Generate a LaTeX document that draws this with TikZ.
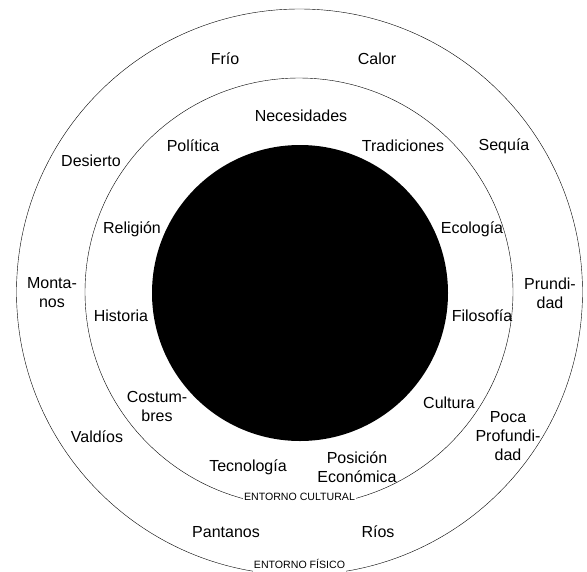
\documentclass[tikz,border=0pt]{standalone}
\usepackage{fontspec}
\setmainfont{Liberation Sans}

\begin{document}
\begin{tikzpicture}[x=1pt, y=-1pt,
    lbl/.style={font=\fontsize{16}{19}\selectfont, align=center, inner sep=1pt},
    ringlbl/.style={font=\fontsize{10.6}{12}\selectfont, fill=white, anchor=base,
        inner xsep=1pt, inner ysep=1pt, text height=8pt, text depth=7pt}]
    \useasboundingbox (0,0) rectangle (587,571);
    % --- rings and core ---
    \draw (299.5,292) circle (283pt);
    \draw (299,292) circle (214pt);
    \fill[black] (300,293) circle (148pt);
    % --- entorno cultural ---
    \foreach \pos/\txt/\nm in {
        (301,116)/Necesidades/necesidades,
        (193,146)/Política/politica,
        (403,146)/Tradiciones/tradiciones,
        (132,229)/Religión/religion,
        (472,229)/Ecología/ecologia,
        (121,316)/Historia/historia,
        (482,316)/Filosofía/filosofia,
        (157,406)/{Costum-\\bres}/costumbres,
        (449,403)/Cultura/cultura,
        (248,467)/Tecnología/tecnologia,
        (357,467)/{Posición\\Económica}/posicion} {
        \node[lbl] (\nm) at \pos {\txt};
    }
    \node[ringlbl] (cultural) at (299.5,500) {ENTORNO CULTURAL};
    % --- entorno fisico ---
    \foreach \pos/\txt/\nm in {
        (225,59)/Frío/frio,
        (377,59)/Calor/calor,
        (91,161)/Desierto/desierto,
        (504,146)/Sequía/sequia,
        (52,293)/{Monta-\\nos}/montanos,
        (550,293)/{Prundi-\\dad}/prundidad,
        (97,437)/Valdíos/valdios,
        (508,436)/{Poca\\Profundi-\\dad}/poca,
        (226,532)/Pantanos/pantanos,
        (378,532)/Ríos/rios} {
        \node[lbl] (\nm) at \pos {\txt};
    }
    \node[ringlbl] (fisico) at (299.5,568) {ENTORNO FÍSICO};
\end{tikzpicture}
\end{document}
